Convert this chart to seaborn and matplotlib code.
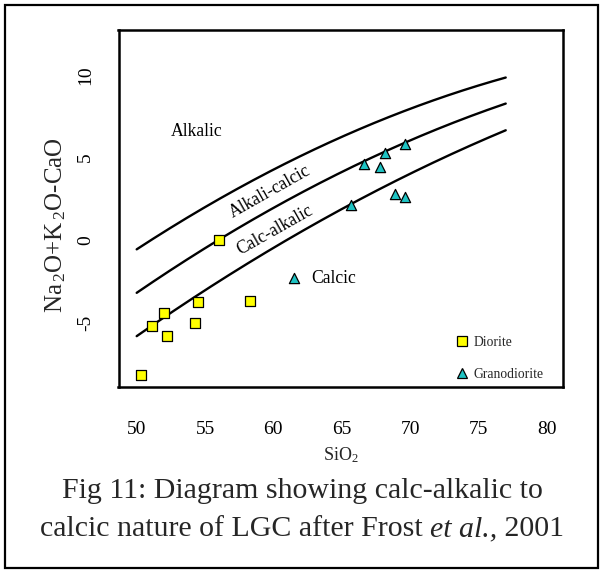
import numpy as np
import pandas as pd
import matplotlib
matplotlib.use("Agg")
import matplotlib.pyplot as plt
from matplotlib.patches import Rectangle
from matplotlib.lines import Line2D
import seaborn as sns

# ---- sample data: SiO2 (wt%) vs MALI (Na2O+K2O-CaO) ----
diorite_sio2 = [50.3, 51.15, 52.0, 52.2, 54.25, 54.5, 56.0, 58.3]
diorite_mali = [-8.2, -5.2, -4.4, -5.8, -5.05, -3.73, 0.0, -3.7]

granodiorite_sio2 = [61.5, 65.7, 66.6, 67.8, 68.2, 68.9, 69.65, 69.65]
granodiorite_mali = [-2.3, 2.15, 4.63, 4.4, 5.26, 2.82, 5.83, 2.59]

# ---- MALI field boundaries (Frost et al., 2001): c0 + c1*SiO2 + c2*SiO2^2 ----
boundary_names = ["alkalic/alkali-calcic", "alkali-calcic/calc-alkalic", "calc-alkalic/calcic"]
boundary_c0 = [-41.86, -44.72, -45.36]
boundary_c1 = [1.112, 1.094, 1.0043]
boundary_c2 = [-0.00572, -0.00527, -0.00427]
boundary_sio2_range = [50.0, 77.0]

# ---- axes ticks and field labels ----
x_ticks = [50, 55, 60, 65, 70, 75, 80]
y_ticks = [-5, 0, 5, 10]
field_labels = ["Alkalic", "Alkali-calcic", "Calc-alkalic", "Calcic"]
field_label_x = [54.4, 59.75, 60.1, 62.75]
field_label_y = [6.55, 2.9, 0.6, -2.3]
field_label_rot = [0, 29.5, 29.5, 0]
field_label_ha = ["center", "center", "center", "left"]

# caption pieces: (text, italic)
caption_line1 = [("Fig 11: Diagram showing calc-alkalic to", False)]
caption_line2 = [("calcic nature of LGC after Frost ", False), ("et al.,", True), (" 2001", False)]

# ---- style ----
sns.set_theme(style="white")
plt.rcParams["font.family"] = ["Liberation Serif", "DejaVu Serif"]
plt.rcParams["mathtext.fontset"] = "custom"
plt.rcParams["mathtext.rm"] = "Liberation Serif"
plt.rcParams["mathtext.it"] = "Liberation Serif:italic"
plt.rcParams["mathtext.default"] = "regular"

W, H = 604, 574
fig = plt.figure(figsize=(W / 100, H / 100), dpi=100)
fig.patch.set_facecolor("white")

# axes box in pixel coordinates
ax_l, ax_r, ax_t, ax_b = 118.5, 563.0, 29.5, 386.5
ax = fig.add_axes([ax_l / W, (H - ax_b) / H, (ax_r - ax_l) / W, (ax_b - ax_t) / H])
ax.set_facecolor("white")

# boundary curves
xs = np.linspace(boundary_sio2_range[0], boundary_sio2_range[1], 200)
frames = []
for name, c0, c1, c2 in zip(boundary_names, boundary_c0, boundary_c1, boundary_c2):
    frames.append(pd.DataFrame({"boundary": name, "SiO2": xs,
                                "MALI": c0 + c1 * xs + c2 * xs ** 2}))
curves = pd.concat(frames, ignore_index=True)
sns.lineplot(data=curves, x="SiO2", y="MALI", hue="boundary",
             palette=["black"] * 3, linewidth=1.7, legend=False, ax=ax,
             estimator=None, sort=True)

# samples
dio = pd.DataFrame({"SiO2": diorite_sio2, "MALI": diorite_mali})
gdi = pd.DataFrame({"SiO2": granodiorite_sio2, "MALI": granodiorite_mali})
sq_color, tri_color = "#FFFF00", "#1EC3C3"
sns.scatterplot(data=dio, x="SiO2", y="MALI", marker="s", s=50,
                color=sq_color, edgecolor="black", linewidth=0.9, ax=ax, zorder=5)
sns.scatterplot(data=gdi, x="SiO2", y="MALI", marker="^", s=54,
                color=tri_color, edgecolor="black", linewidth=0.9, ax=ax, zorder=5)

# field labels
for txt, x, y, r, ha in zip(field_labels, field_label_x, field_label_y,
                            field_label_rot, field_label_ha):
    ax.text(x, y, txt, fontsize=12.7, rotation=r, ha=ha, va="center",
            rotation_mode="anchor", color="black")

# axes limits, ticks, spines
ax.set_xlim(48.67, 81.19)
ax.set_ylim(-8.87, 12.76)
ax.set_xticks(x_ticks)
ax.set_yticks(y_ticks)
ax.set_xticklabels([str(t) for t in x_ticks])
ax.set_yticklabels([str(t) for t in y_ticks])
ax.tick_params(axis="both", direction="out", length=10.5, width=1.5,
               colors="black", labelsize=14)
ax.tick_params(axis="x", pad=14)
ax.tick_params(axis="y", pad=7, labelrotation=90)
for lab in ax.get_yticklabels():
    lab.set_va("center")
for sp in ax.spines.values():
    sp.set_visible(True)
    sp.set_color("black")
    sp.set_linewidth(1.8)
ax.grid(False)

ax.set_xlabel("")
ax.set_ylabel("")
fig.text(340.7 / W, 1 - 455 / H, r"SiO$_2$", fontsize=13, ha="center", va="center")
fig.text(56 / W, 1 - 225 / H, r"Na$_{\,2}$O+K$_{\,2}$O-CaO", fontsize=18,
         rotation=90, ha="center", va="center")

# legend
handles = [Line2D([], [], linestyle="none", marker="s", markersize=7.2,
                  markerfacecolor=sq_color, markeredgecolor="black", markeredgewidth=0.9),
           Line2D([], [], linestyle="none", marker="^", markersize=7.8,
                  markerfacecolor=tri_color, markeredgecolor="black", markeredgewidth=0.9)]
ax.legend(handles, ["Diorite", "Granodiorite"], loc="upper left",
          bbox_to_anchor=((455 - ax_l) / (ax_r - ax_l), (ax_b - 336) / (ax_b - ax_t)),
          frameon=False, fontsize=9.8, handlelength=1.0, handletextpad=0.37,
          labelspacing=1.4, borderpad=0, borderaxespad=0)

# caption, assembled from plain and italic pieces and centred on the figure
renderer = fig.canvas.get_renderer()
cap_size = 21.5
for pieces, y_px in [(caption_line1, 491), (caption_line2, 529)]:
    texts = [fig.text(0, 1 - y_px / H, t, fontsize=cap_size, va="center", ha="left",
                      style="italic" if it else "normal") for t, it in pieces]
    widths = [t.get_window_extent(renderer).width for t in texts]
    x = (W - sum(widths)) / 2
    for t, w in zip(texts, widths):
        t.set_x(x / W)
        x += w

# outer frame
fig.patches.append(Rectangle((5 / W, (H - 568) / H), 593 / W, 563 / H,
                             transform=fig.transFigure, fill=False,
                             edgecolor="black", linewidth=1.6))

fig.savefig("out.png", dpi=100)
